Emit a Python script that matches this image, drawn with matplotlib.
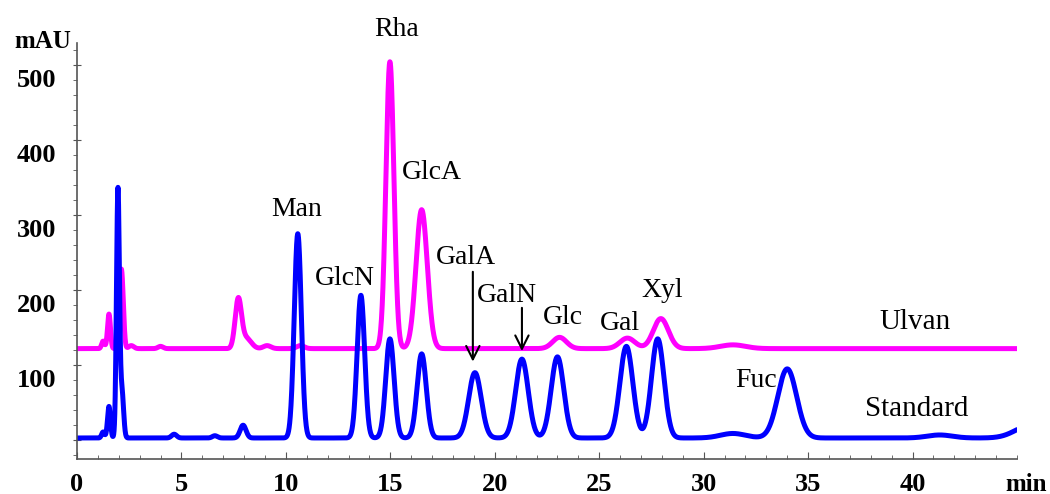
import numpy as np
import matplotlib.pyplot as plt
import matplotlib.transforms as mtransforms

# retention time (min), peak height above baseline (mAU), peak sigma (min)
std_rt     = [1.25, 1.53, 1.96, 2.15, 4.65, 6.6, 7.95, 10.57, 13.59, 14.98, 16.5, 19.05, 21.3, 23.0, 26.3, 27.8, 31.4, 34.0, 41.3, 45.6]
std_height = [8,    42,   330,  62,   5,    3,   17,   272,   190,   132,   112,  87,    105,  108,  122,  132,  6,    92,   4,    16]
std_sigma  = [0.07, 0.07, 0.07, 0.08, 0.12, 0.12, 0.14, 0.17, 0.18,  0.2,   0.22, 0.3,   0.3,  0.3,  0.31, 0.3,  0.6,  0.45, 0.6,  0.7]
std_base = 3

ulv_rt     = [1.25, 1.53, 2.06, 2.15, 2.6, 4.0, 7.72, 8.1, 9.1, 10.7, 14.98, 16.5, 23.1, 26.35, 27.95, 31.4]
ulv_height = [10,   46,   40,   84,   4,   3,   64,   14,  4,   4,    382,   185,  15,   14,    40,    5]
ulv_sigma  = [0.07, 0.07, 0.07, 0.08, 0.12, 0.12, 0.15, 0.24, 0.18, 0.18, 0.19,  0.27, 0.33, 0.36,  0.36,  0.6]
ulv_base = 122

# label text, x (min), y (mAU), font size
labels = [("Rha", 15.3, 547, 20), ("GlcA", 17.0, 357, 20), ("Man", 10.5, 307, 20), ("GlcN", 12.8, 216, 20),
          ("GalA", 18.6, 244, 20), ("GalN", 20.6, 193, 20), ("Glc", 23.25, 164, 20), ("Gal", 26.0, 156, 20),
          ("Xyl", 28.0, 200, 20), ("Fuc", 32.5, 79, 20), ("Ulvan", 40.1, 157, 21), ("Standard", 40.2, 41, 21)]
# arrows: x, y start, y end
arrows = [(18.95, 228, 101), (21.3, 180, 115)]

t = np.linspace(0, 45, 5000)

def trace(base, rts, hs, ss):
    y = np.full_like(t, base, dtype=float)
    for r, h, s in zip(rts, hs, ss):
        y += h * np.exp(-0.5 * ((t - r) / s) ** 2)
    return y

fig = plt.figure(figsize=(10.5, 4.94), dpi=100)
ax = fig.add_axes([77/1050, 35/494, 940/1050, 416/494])

ax.plot(t, trace(ulv_base, ulv_rt, ulv_height, ulv_sigma), color='#ff00ff', lw=3.6, solid_capstyle='round')
ax.plot(t, trace(std_base, std_rt, std_height, std_sigma), color='#0000ff', lw=3.6, solid_capstyle='round')

for txt, x, y, fs in labels:
    ax.text(x, y, txt, ha='center', va='center', fontsize=fs, family='Liberation Serif', clip_on=False)
for x, y0, y1 in arrows:
    ax.annotate('', xy=(x, y1), xytext=(x, y0),
                arrowprops=dict(arrowstyle='->', color='black', lw=1.5, mutation_scale=24))

ax.set_xlim(0, 45)
ax.set_ylim(-25, 529)
for s in ['top', 'right']:
    ax.spines[s].set_visible(False)
for s in ['left', 'bottom']:
    ax.spines[s].set_color('#555555')
    ax.spines[s].set_linewidth(1.2)

ax.set_xticks([0, 5, 10, 15, 20, 25, 30, 35, 40])
ax.set_xticks(np.arange(0, 46, 1), minor=True)
ax.set_yticks([0, 100, 200, 300, 400, 500])
ax.set_yticklabels(['', '100', '200', '300', '400', '500'])
ax.set_yticks(np.arange(-20, 530, 20), minor=True)
ax.tick_params(axis='x', which='major', direction='in', length=5, color='#555555', pad=10)
ax.tick_params(axis='x', which='minor', direction='in', length=3, color='#555555')
ax.tick_params(axis='y', which='major', direction='inout', length=6, color='#555555', pad=12)
ax.tick_params(axis='y', which='minor', direction='out', length=3, color='#555555')

for lab in ax.get_xticklabels() + ax.get_yticklabels():
    lab.set_fontsize(19)
    lab.set_fontweight('bold')
    lab.set_family('Liberation Serif')
shift = mtransforms.ScaledTranslation(0, -13/100, fig.dpi_scale_trans)
for lab in ax.get_yticklabels():
    lab.set_transform(lab.get_transform() + shift)

fig.text(43/1050, 1 - 42/494, 'mAU', ha='center', va='center', fontsize=18, fontweight='bold', family='Liberation Serif')
fig.text(1047/1050, 1 - 484/494, 'min', ha='right', va='center', fontsize=18, fontweight='bold', family='Liberation Serif')

fig.savefig('out.png', dpi=100)
